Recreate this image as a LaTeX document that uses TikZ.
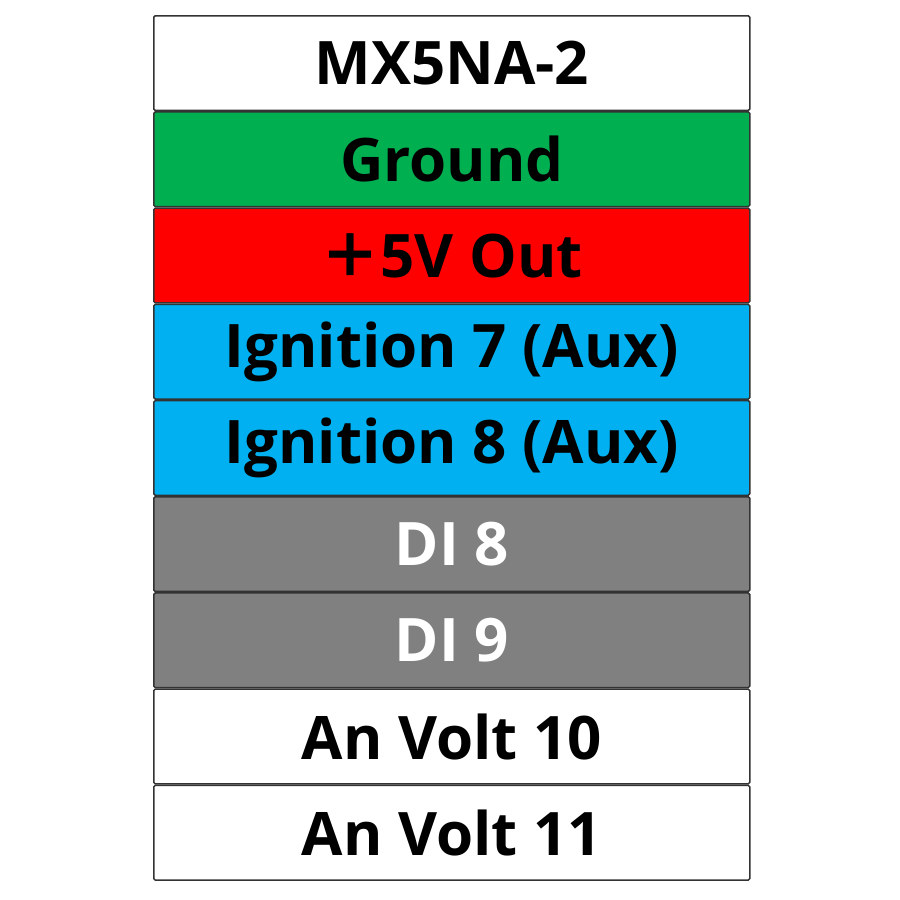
\documentclass[tikz,border=0pt]{standalone}
\usepackage{fontspec}
\setmainfont{Open Sans}
\newfontfamily\cjk{Noto Sans CJK JP}
\usetikzlibrary{positioning}
\definecolor{gnd}{HTML}{00B050}
\definecolor{pwr}{HTML}{FF0000}
\definecolor{ign}{HTML}{00B0F0}
\definecolor{din}{HTML}{808080}
\begin{document}
\begin{tikzpicture}[x=1bp, y=1bp,
      pin/.style={rectangle, draw=black!80, line width=1.5bp, rounded corners=1.5bp,
        minimum width=596bp, minimum height=94.7bp, inner sep=0pt,
        font=\fontsize{60bp}{64bp}\selectfont\bfseries},
      node distance=0bp]
      \useasboundingbox (0,0) rectangle (900,-900);
      \node[pin, fill=white, anchor=north west] (mx) at (153,-15) {MX5NA-2};
      \node[pin, fill=gnd, below=of mx] (ground) {Ground};
      \node[pin, fill=pwr, below=of ground] (vout) {{\cjk\bfseries ＋}5V Out};
      \node[pin, fill=ign, below=of vout] (ign7) {Ignition 7 (Aux)};
      \node[pin, fill=ign, below=of ign7] (ign8) {Ignition 8 (Aux)};
      \node[pin, fill=din, text=white, below=of ign8] (di8) {DI 8};
      \node[pin, fill=din, text=white, below=of di8] (di9) {DI 9};
      \node[pin, fill=white, below=of di9] (an10) {An Volt 10};
      \node[pin, fill=white, below=of an10] (an11) {An Volt 11};
    \end{tikzpicture}
\end{document}
